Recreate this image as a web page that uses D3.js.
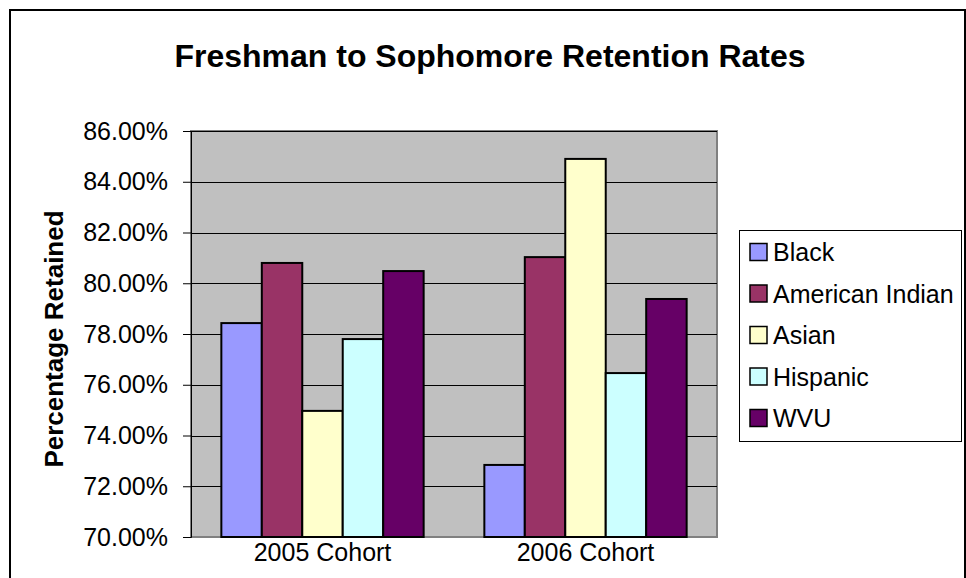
<!DOCTYPE html>
<html>
<head>
<meta charset="utf-8">
<script src="https://cdn.jsdelivr.net/npm/d3@7"></script>
<style>
  body { margin: 0; background: #fff; }
  text { font-family: "Liberation Sans", Arial, sans-serif; fill: #000; }
</style>
</head>
<body>
<script>
// data
var cohorts = ["2005 Cohort", "2006 Cohort"];
var groups = ["Black", "American Indian", "Asian", "Hispanic", "WVU"];
var colors = ["#9999FF", "#993366", "#FFFFCC", "#CCFFFF", "#660066"];
var rates2005 = [78.43, 80.80, 74.97, 77.80, 80.48];
var rates2006 = [72.84, 81.03, 84.90, 76.46, 79.38];
var yTicks = [70, 72, 74, 76, 78, 80, 82, 84, 86];

var svgWidth = 966;
var svgHeight = 578;

// plot area
var plot = { left: 191, right: 717, top: 131, bottom: 537 };

var svg = d3.select("body")
  .append("svg")
  .attr("width", svgWidth)
  .attr("height", svgHeight);

// chart border (runs off the bottom like the original)
svg.append("rect")
  .attr("x", 10)
  .attr("y", 10)
  .attr("width", 955)
  .attr("height", 600)
  .attr("fill", "#fff")
  .attr("stroke", "#000")
  .attr("stroke-width", 2);

// title
svg.append("text")
  .attr("x", 490)
  .attr("y", 67)
  .attr("text-anchor", "middle")
  .style("font-size", "32px")
  .style("font-weight", "bold")
  .text("Freshman to Sophomore Retention Rates");

// scales
var x0 = d3.scaleBand()
  .domain(cohorts)
  .range([plot.left, plot.right])
  .paddingInner(0)
  .paddingOuter(0);

var x1 = d3.scaleBand()
  .domain(groups)
  .range([0, x0.bandwidth()])
  .paddingInner(0)
  .paddingOuter(0.75);

var y = d3.scaleLinear()
  .domain([70, 86])
  .range([plot.bottom, plot.top]);

var color = d3.scaleOrdinal().domain(groups).range(colors);

// plot background
svg.append("rect")
  .attr("x", plot.left)
  .attr("y", plot.top)
  .attr("width", plot.right - plot.left)
  .attr("height", plot.bottom - plot.top)
  .attr("fill", "#C0C0C0")
  .attr("stroke", "#808080")
  .attr("stroke-width", 2);

// gridlines
svg.append("g")
  .selectAll("line")
  .data(yTicks.slice(1))
  .enter().append("line")
  .attr("x1", plot.left)
  .attr("x2", plot.right)
  .attr("y1", d => Math.round(y(d)) + 0.5)
  .attr("y2", d => Math.round(y(d)) + 0.5)
  .attr("stroke", "#000")
  .attr("stroke-width", 1);

// y axis
var yAxis = d3.axisLeft(y)
  .tickValues(yTicks)
  .tickSize(8)
  .tickPadding(15)
  .tickFormat(d => d.toFixed(2) + "%");

var yG = svg.append("g")
  .attr("transform", "translate(" + plot.left + ",0)")
  .call(yAxis);
yG.select(".domain").attr("stroke", "#000");
yG.selectAll(".tick line").attr("stroke", "#000");
yG.selectAll("text")
  .style("font-size", "25px")
  .style("font-family", "'Liberation Sans', Arial, sans-serif")
  .attr("fill", "#000");

// bars
var data = cohorts.map(function(c, i) {
  var vals = i === 0 ? rates2005 : rates2006;
  return { cohort: c, values: groups.map((g, j) => ({ group: g, value: vals[j] })) };
});

var cohortG = svg.append("g")
  .selectAll("g")
  .data(data)
  .enter().append("g")
  .attr("transform", d => "translate(" + x0(d.cohort) + ",0)");

cohortG.selectAll("rect")
  .data(d => d.values)
  .enter().append("rect")
  .attr("x", d => x1(d.group))
  .attr("y", d => y(d.value))
  .attr("width", x1.bandwidth())
  .attr("height", d => y(70) - y(d.value))
  .attr("fill", d => color(d.group))
  .attr("stroke", "#000")
  .attr("stroke-width", 2);

// x axis labels
var xAxis = d3.axisBottom(x0).tickSize(0).tickPadding(0);
var xG = svg.append("g")
  .attr("transform", "translate(0," + plot.bottom + ")")
  .call(xAxis);
xG.select(".domain").remove();
xG.selectAll("text")
  .attr("y", 24)
  .attr("dy", 0)
  .style("font-size", "25px")
  .style("font-family", "'Liberation Sans', Arial, sans-serif")
  .attr("fill", "#000");

// y axis title
svg.append("text")
  .attr("transform", "translate(63,339) rotate(-90)")
  .attr("text-anchor", "middle")
  .style("font-size", "26px")
  .style("font-weight", "bold")
  .text("Percentage Retained");

// legend
var legend = svg.append("g");
legend.append("rect")
  .attr("x", 739.5)
  .attr("y", 230.5)
  .attr("width", 222)
  .attr("height", 211)
  .attr("fill", "#fff")
  .attr("stroke", "#000")
  .attr("stroke-width", 1);

var legendRow = d3.scalePoint()
  .domain(groups)
  .range([252, 418]);

var items = legend.selectAll(".item")
  .data(groups)
  .enter().append("g")
  .attr("class", "item")
  .attr("transform", d => "translate(0," + legendRow(d) + ")");

items.append("rect")
  .attr("x", 750)
  .attr("y", -8.5)
  .attr("width", 17)
  .attr("height", 17)
  .attr("fill", d => color(d))
  .attr("stroke", "#000")
  .attr("stroke-width", 1.5);

items.append("text")
  .attr("x", 773)
  .attr("y", 9)
  .style("font-size", "25px")
  .text(d => d);
</script>
</body>
</html>
